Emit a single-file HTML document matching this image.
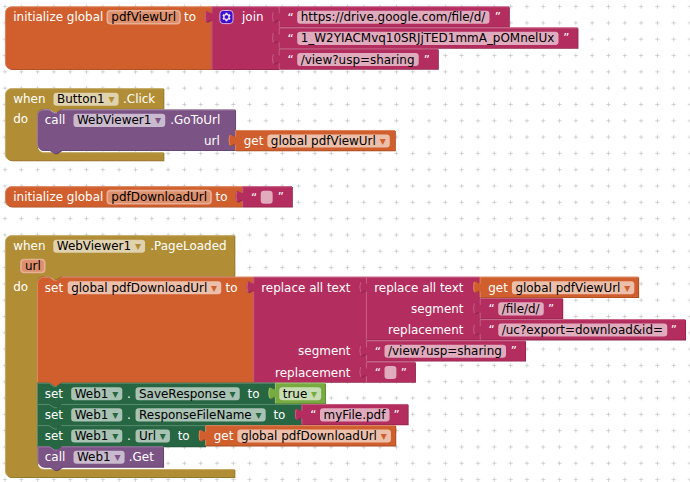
<!DOCTYPE html>
<html><head><meta charset="utf-8"><title>Blocks</title>
<style>
html,body{margin:0;padding:0;background:#fff;overflow:hidden}
svg{display:block}
text{font-family:"DejaVu Sans","Liberation Sans",sans-serif;font-size:11.96px;white-space:pre}
</style></head><body>
<svg width="690" height="482" viewBox="0 0 690 482">
<defs><pattern id="grid" patternUnits="userSpaceOnUse" width="16.31" height="16.31" x="-3.15" y="-1.55">
<path d="M 6.12,8.15 h 4.08 M 8.15,6.12 v 4.08" stroke="#c8c8c8" stroke-width="0.82" fill="none"/></pattern></defs>
<rect width="690" height="482" fill="#fff"/>
<rect width="690" height="482" fill="url(#grid)"/>
<path d="M 5,12.92 A 6.52,6.52 0 0,1 11.52,6.4 H 211.5 v 4.08 c 0,8.15 -6.52,-6.52 -6.52,6.12 s 6.52,-2.04 6.52,6.12 V 69.2 H 11.52 A 6.52,6.52 0 0,1 5,62.68 Z" fill="#a64c24" transform="translate(0.82,0.82)"/>
<path d="M 5,12.92 A 6.52,6.52 0 0,1 11.52,6.4 H 211.5 v 4.08 c 0,8.15 -6.52,-6.52 -6.52,6.12 s 6.52,-2.04 6.52,6.12 V 69.2 H 11.52 A 6.52,6.52 0 0,1 5,62.68 Z" fill="#D05F2D"/>
<path d="M 6.96,67.24 A 6.12,6.12 0 0,1 5.41,62.68 V 12.92 A 6.12,6.12 0 0,1 11.52,6.81 H 211.09 M 207.42,22.14 l 3,-1.71" fill="none" stroke="#de8f6c" stroke-width="0.82" stroke-linecap="round"/>
<text x="13.25" y="21.35" fill="#fff">initialize global</text>
<rect x="107.3" y="10.75" width="72.67" height="13.05" rx="3.26" ry="3.26" fill="#de8f6c" stroke="#e7af96" stroke-width="1.63"/>
<text x="111.3" y="21.35" fill="#000">pdfViewUrl</text>
<text x="184" y="21.35" fill="#fff">to</text>
<path d="M 211.5,6.4 H 278.7 V 6.4 v 4.08 c 0,8.15 -6.52,-6.52 -6.52,6.12 s 6.52,-2.04 6.52,6.12 V 27.5 v 4.08 c 0,8.15 -6.52,-6.52 -6.52,6.12 s 6.52,-2.04 6.52,6.12 V 48.6 v 4.08 c 0,8.15 -6.52,-6.52 -6.52,6.12 s 6.52,-2.04 6.52,6.12 V 69.2 H 211.5 V 22.71 c 0,-8.15 -6.52,6.52 -6.52,-6.12 s 6.52,2.04 6.52,-6.12 Z" fill="#8f244b" transform="translate(0.82,0.82)"/>
<path d="M 211.5,6.4 H 278.7 V 6.4 v 4.08 c 0,8.15 -6.52,-6.52 -6.52,6.12 s 6.52,-2.04 6.52,6.12 V 27.5 v 4.08 c 0,8.15 -6.52,-6.52 -6.52,6.12 s 6.52,-2.04 6.52,6.12 V 48.6 v 4.08 c 0,8.15 -6.52,-6.52 -6.52,6.12 s 6.52,-2.04 6.52,6.12 V 69.2 H 211.5 V 22.71 c 0,-8.15 -6.52,6.52 -6.52,-6.12 s 6.52,2.04 6.52,-6.12 Z" fill="#B32D5E"/>
<path d="M 211.91,68.79 V 21.49 m -6,-0.41 q -1.24,-4.49 0,-8.97 m 6,0.82 V 6.81 H 278.29 M 274.62,22.14 l 3,-1.71 M 274.62,43.24 l 3,-1.71 M 274.62,64.34 l 3,-1.71" fill="none" stroke="#ca6c8e" stroke-width="0.82" stroke-linecap="round"/>
<g transform="translate(219.9,10.48) scale(0.82)"><rect x="0" y="0" width="16" height="16" rx="4" ry="4" fill="#3a10d2" stroke="#f0d6e0" stroke-width="1"/><path fill="#fbe9e4" d="m4.203,7.296 0,1.368 -0.92,0.677 -0.11,0.41 0.9,1.559 0.41,0.11 1.043,-0.457 1.187,0.683 0.127,1.134 0.3,0.3 1.8,0 0.3,-0.299 0.127,-1.138 1.185,-0.682 1.046,0.458 0.409,-0.11 0.9,-1.559 -0.11,-0.41 -0.92,-0.677 0,-1.366 0.92,-0.677 0.11,-0.41 -0.9,-1.559 -0.409,-0.109 -1.046,0.458 -1.185,-0.682 -0.127,-1.138 -0.3,-0.299 -1.8,0 -0.3,0.3 -0.126,1.135 -1.187,0.682 -1.043,-0.457 -0.41,0.11 -0.899,1.559 0.108,0.409z"/><circle cx="8" cy="8" r="2.7" fill="#3a10d2" stroke="#fbe9e4" stroke-width="0.6"/></g>
<text x="242" y="21.35" fill="#fff">join</text>
<path d="M 278.7,6.4 H 509 V 26.79 H 278.7 V 22.71 c 0,-8.15 -6.52,6.52 -6.52,-6.12 s 6.52,2.04 6.52,-6.12 Z" fill="#8f244b" transform="translate(0.82,0.82)"/>
<path d="M 278.7,6.4 H 509 V 26.79 H 278.7 V 22.71 c 0,-8.15 -6.52,6.52 -6.52,-6.12 s 6.52,2.04 6.52,-6.12 Z" fill="#B32D5E"/>
<path d="M 279.11,26.38 V 21.49 m -6,-0.41 q -1.24,-4.49 0,-8.97 m 6,0.82 V 6.81 H 508.59" fill="none" stroke="#ca6c8e" stroke-width="0.82" stroke-linecap="round"/>
<text x="287.5" y="21.65" fill="#fff">“</text>
<rect x="297.2" y="10.75" width="192.28" height="13.05" rx="3.26" ry="3.26" fill="#fff" fill-opacity="0.6"/>
<text x="300.7" y="21.35" fill="#000">https://drive.google.com/file/d/</text>
<text x="500.85" y="21.35" fill="#fff" text-anchor="end">”</text>
<path d="M 278.7,27.5 H 577.6 V 47.89 H 278.7 V 43.81 c 0,-8.15 -6.52,6.52 -6.52,-6.12 s 6.52,2.04 6.52,-6.12 Z" fill="#8f244b" transform="translate(0.82,0.82)"/>
<path d="M 278.7,27.5 H 577.6 V 47.89 H 278.7 V 43.81 c 0,-8.15 -6.52,6.52 -6.52,-6.12 s 6.52,2.04 6.52,-6.12 Z" fill="#B32D5E"/>
<path d="M 279.11,47.48 V 42.59 m -6,-0.41 q -1.24,-4.49 0,-8.97 m 6,0.82 V 27.91 H 577.19" fill="none" stroke="#ca6c8e" stroke-width="0.82" stroke-linecap="round"/>
<text x="287.5" y="42.75" fill="#fff">“</text>
<rect x="297.2" y="31.85" width="261.3" height="13.05" rx="3.26" ry="3.26" fill="#fff" fill-opacity="0.6"/>
<text x="300.7" y="42.45" fill="#000">1_W2YIACMvq10SRJjTED1mmA_pOMnelUx</text>
<text x="569.45" y="42.45" fill="#fff" text-anchor="end">”</text>
<path d="M 278.7,48.6 H 438 V 68.99 H 278.7 V 64.91 c 0,-8.15 -6.52,6.52 -6.52,-6.12 s 6.52,2.04 6.52,-6.12 Z" fill="#8f244b" transform="translate(0.82,0.82)"/>
<path d="M 278.7,48.6 H 438 V 68.99 H 278.7 V 64.91 c 0,-8.15 -6.52,6.52 -6.52,-6.12 s 6.52,2.04 6.52,-6.12 Z" fill="#B32D5E"/>
<path d="M 279.11,68.58 V 63.69 m -6,-0.41 q -1.24,-4.49 0,-8.97 m 6,0.82 V 49.01 H 437.59" fill="none" stroke="#ca6c8e" stroke-width="0.82" stroke-linecap="round"/>
<text x="287.5" y="63.85" fill="#fff">“</text>
<rect x="297.2" y="52.95" width="121.5" height="13.05" rx="3.26" ry="3.26" fill="#fff" fill-opacity="0.6"/>
<text x="300.7" y="63.55" fill="#000">/view?usp=sharing</text>
<text x="429.85" y="63.55" fill="#fff" text-anchor="end">”</text>
<path d="M 5,94.82 A 6.52,6.52 0 0,1 11.52,88.3 H 163.5 V 108.69 H 61.47 l -4.89,3.26 -2.45,0 -4.89,-3.26 H 43.52 a 6.52,6.52 0 0,0 -6.52,6.52 V 145.78 a 6.52,6.52 0 0,0 6.52,6.52 H 163.5 V 160.46 H 11.52 A 6.52,6.52 0 0,1 5,153.93 Z" fill="#8e722a" transform="translate(0.82,0.82)"/>
<path d="M 5,94.82 A 6.52,6.52 0 0,1 11.52,88.3 H 163.5 V 108.69 H 61.47 l -4.89,3.26 -2.45,0 -4.89,-3.26 H 43.52 a 6.52,6.52 0 0,0 -6.52,6.52 V 145.78 a 6.52,6.52 0 0,0 6.52,6.52 H 163.5 V 160.46 H 11.52 A 6.52,6.52 0 0,1 5,153.93 Z" fill="#B18E35"/>
<path d="M 6.96,158.5 A 6.12,6.12 0 0,1 5.41,153.93 V 94.82 A 6.12,6.12 0 0,1 11.52,88.71 H 163.09 M 39.36,150.75 a 6.93,6.93 0 0,0 4.57,1.96 H 163.09" fill="none" stroke="#c8b072" stroke-width="0.82" stroke-linecap="round"/>
<text x="13.25" y="103.25" fill="#fff">when</text>
<rect x="53.5" y="92.65" width="65.08" height="13.05" rx="3.26" ry="3.26" fill="#fff" fill-opacity="0.6"/>
<text x="57" y="103.25" fill="#000">Button1<tspan fill="#B18E35"> ▾</tspan></text>
<text x="123" y="103.25" fill="#fff">.Click</text>
<text x="13.25" y="123.44" fill="#fff">do</text>
<path d="M 37,116.01 A 6.52,6.52 0 0,1 43.52,109.49 H 49.23 l 4.89,3.26 2.45,0 4.89,-3.26 H 235.2 V 129.88 v 4.08 c 0,8.15 -6.52,-6.52 -6.52,6.12 s 6.52,-2.04 6.52,6.12 V 150.26 H 61.47 l -4.89,3.26 -2.45,0 -4.89,-3.26 H 43.52 A 6.52,6.52 0 0,1 37,143.74 Z" fill="#63426a" transform="translate(0.82,0.82)"/>
<path d="M 37,116.01 A 6.52,6.52 0 0,1 43.52,109.49 H 49.23 l 4.89,3.26 2.45,0 4.89,-3.26 H 235.2 V 129.88 v 4.08 c 0,8.15 -6.52,-6.52 -6.52,6.12 s 6.52,-2.04 6.52,6.12 V 150.26 H 61.47 l -4.89,3.26 -2.45,0 -4.89,-3.26 H 43.52 A 6.52,6.52 0 0,1 37,143.74 Z" fill="#7C5385"/>
<path d="M 38.96,148.31 A 6.12,6.12 0 0,1 37.41,143.74 V 116.01 A 6.12,6.12 0 0,1 43.52,109.9 H 49.23 l 4.89,3.26 2.45,0 M 61.47,109.9 H 234.79 M 231.12,145.61 l 3,-1.71" fill="none" stroke="#a387aa" stroke-width="0.82" stroke-linecap="round"/>
<text x="44.75" y="124.44" fill="#fff">call</text>
<rect x="73.5" y="113.84" width="91.75" height="13.05" rx="3.26" ry="3.26" fill="#fff" fill-opacity="0.6"/>
<text x="77" y="124.44" fill="#000">WebViewer1<tspan fill="#7C5385"> ▾</tspan></text>
<text x="170.3" y="124.44" fill="#fff">.GoToUrl</text>
<text x="219.8" y="144.82" fill="#fff" text-anchor="end">url</text>
<path d="M 235.2,130.07 H 395 V 150.46 H 235.2 V 146.38 c 0,-8.15 -6.52,6.52 -6.52,-6.12 s 6.52,2.04 6.52,-6.12 Z" fill="#a64c24" transform="translate(0.82,0.82)"/>
<path d="M 235.2,130.07 H 395 V 150.46 H 235.2 V 146.38 c 0,-8.15 -6.52,6.52 -6.52,-6.12 s 6.52,2.04 6.52,-6.12 Z" fill="#D05F2D"/>
<path d="M 235.61,150.05 V 145.16 m -6,-0.41 q -1.24,-4.49 0,-8.97 m 6,0.82 V 130.48 H 394.59" fill="none" stroke="#de8f6c" stroke-width="0.82" stroke-linecap="round"/>
<text x="243.7" y="145.02" fill="#fff">get</text>
<rect x="267.34" y="134.42" width="122.45" height="13.05" rx="3.26" ry="3.26" fill="#fff" fill-opacity="0.6"/>
<text x="270.84" y="145.02" fill="#000">global pdfViewUrl<tspan fill="#D05F2D"> ▾</tspan></text>
<path d="M 5,192.82 A 6.52,6.52 0 0,1 11.52,186.3 H 242.25 v 4.08 c 0,8.15 -6.52,-6.52 -6.52,6.12 s 6.52,-2.04 6.52,6.12 V 206.69 H 11.52 A 6.52,6.52 0 0,1 5,200.16 Z" fill="#a64c24" transform="translate(0.82,0.82)"/>
<path d="M 5,192.82 A 6.52,6.52 0 0,1 11.52,186.3 H 242.25 v 4.08 c 0,8.15 -6.52,-6.52 -6.52,6.12 s 6.52,-2.04 6.52,6.12 V 206.69 H 11.52 A 6.52,6.52 0 0,1 5,200.16 Z" fill="#D05F2D"/>
<path d="M 6.96,204.73 A 6.12,6.12 0 0,1 5.41,200.16 V 192.82 A 6.12,6.12 0 0,1 11.52,186.71 H 241.84 M 238.17,202.04 l 3,-1.71" fill="none" stroke="#de8f6c" stroke-width="0.82" stroke-linecap="round"/>
<text x="13.25" y="201.25" fill="#fff">initialize global</text>
<rect x="107.3" y="190.65" width="103.74" height="13.05" rx="3.26" ry="3.26" fill="#de8f6c" stroke="#e7af96" stroke-width="1.63"/>
<text x="111.3" y="201.25" fill="#000">pdfDownloadUrl</text>
<text x="215.5" y="201.25" fill="#fff">to</text>
<path d="M 242.25,186.3 H 292 V 206.69 H 242.25 V 202.61 c 0,-8.15 -6.52,6.52 -6.52,-6.12 s 6.52,2.04 6.52,-6.12 Z" fill="#8f244b" transform="translate(0.82,0.82)"/>
<path d="M 242.25,186.3 H 292 V 206.69 H 242.25 V 202.61 c 0,-8.15 -6.52,6.52 -6.52,-6.12 s 6.52,2.04 6.52,-6.12 Z" fill="#B32D5E"/>
<path d="M 242.66,206.28 V 201.39 m -6,-0.41 q -1.24,-4.49 0,-8.97 m 6,0.82 V 186.71 H 291.59" fill="none" stroke="#ca6c8e" stroke-width="0.82" stroke-linecap="round"/>
<text x="251.05" y="201.55" fill="#fff">“</text>
<rect x="260.75" y="190.65" width="11.9" height="13.05" rx="3.26" ry="3.26" fill="#fff" fill-opacity="0.6"/>
<text x="264.25" y="201.25" fill="#000"></text>
<text x="283.85" y="201.25" fill="#fff" text-anchor="end">”</text>
<path d="M 5,241.82 A 6.52,6.52 0 0,1 11.52,235.3 H 234.5 V 276 H 61.47 l -4.89,3.26 -2.45,0 -4.89,-3.26 H 43.52 a 6.52,6.52 0 0,0 -6.52,6.52 V 462.58 a 6.52,6.52 0 0,0 6.52,6.52 H 234.5 V 477.25 H 11.52 A 6.52,6.52 0 0,1 5,470.73 Z" fill="#8e722a" transform="translate(0.82,0.82)"/>
<path d="M 5,241.82 A 6.52,6.52 0 0,1 11.52,235.3 H 234.5 V 276 H 61.47 l -4.89,3.26 -2.45,0 -4.89,-3.26 H 43.52 a 6.52,6.52 0 0,0 -6.52,6.52 V 462.58 a 6.52,6.52 0 0,0 6.52,6.52 H 234.5 V 477.25 H 11.52 A 6.52,6.52 0 0,1 5,470.73 Z" fill="#B18E35"/>
<path d="M 6.96,475.3 A 6.12,6.12 0 0,1 5.41,470.73 V 241.82 A 6.12,6.12 0 0,1 11.52,235.71 H 234.09 M 39.36,467.55 a 6.93,6.93 0 0,0 4.57,1.96 H 234.09" fill="none" stroke="#c8b072" stroke-width="0.82" stroke-linecap="round"/>
<text x="13.25" y="250.25" fill="#fff">when</text>
<rect x="53.3" y="239.65" width="91.75" height="13.05" rx="3.26" ry="3.26" fill="#fff" fill-opacity="0.6"/>
<text x="56.8" y="250.25" fill="#000">WebViewer1<tspan fill="#B18E35"> ▾</tspan></text>
<text x="150.3" y="250.25" fill="#fff">.PageLoaded</text>
<rect x="21" y="259.45" width="23.72" height="13.05" rx="3.26" ry="3.26" fill="#de8f6c" stroke="#e7af96" stroke-width="1.63"/>
<text x="25" y="270.05" fill="#000">url</text>
<text x="13.25" y="290.75" fill="#fff">do</text>
<path d="M 37.1,283.32 A 6.52,6.52 0 0,1 43.62,276.8 H 49.33 l 4.89,3.26 2.45,0 4.89,-3.26 H 253.25 V 276.8 v 4.08 c 0,8.15 -6.52,-6.52 -6.52,6.12 s 6.52,-2.04 6.52,6.12 V 382.81 H 61.56 l -4.89,3.26 -2.45,0 -4.89,-3.26 H 37.1 Z" fill="#a64c24" transform="translate(0.82,0.82)"/>
<path d="M 37.1,283.32 A 6.52,6.52 0 0,1 43.62,276.8 H 49.33 l 4.89,3.26 2.45,0 4.89,-3.26 H 253.25 V 276.8 v 4.08 c 0,8.15 -6.52,-6.52 -6.52,6.12 s 6.52,-2.04 6.52,6.12 V 382.81 H 61.56 l -4.89,3.26 -2.45,0 -4.89,-3.26 H 37.1 Z" fill="#D05F2D"/>
<path d="M 37.51,382.41 V 283.32 A 6.12,6.12 0 0,1 43.62,277.21 H 49.33 l 4.89,3.26 2.45,0 M 61.56,277.21 H 252.84 M 249.17,292.54 l 3,-1.71" fill="none" stroke="#de8f6c" stroke-width="0.82" stroke-linecap="round"/>
<text x="44.8" y="291.75" fill="#fff">set</text>
<rect x="67.7" y="281.15" width="153.52" height="13.05" rx="3.26" ry="3.26" fill="#fff" fill-opacity="0.6"/>
<text x="71.2" y="291.75" fill="#000">global pdfDownloadUrl<tspan fill="#D05F2D"> ▾</tspan></text>
<text x="225.6" y="291.75" fill="#fff">to</text>
<path d="M 253.25,276.8 H 366 V 276.8 v 4.08 c 0,8.15 -6.52,-6.52 -6.52,6.12 s 6.52,-2.04 6.52,6.12 V 340.41 v 4.08 c 0,8.15 -6.52,-6.52 -6.52,6.12 s 6.52,-2.04 6.52,6.12 V 361.61 v 4.08 c 0,8.15 -6.52,-6.52 -6.52,6.12 s 6.52,-2.04 6.52,6.12 V 382 H 253.25 V 293.11 c 0,-8.15 -6.52,6.52 -6.52,-6.12 s 6.52,2.04 6.52,-6.12 Z" fill="#8f244b" transform="translate(0.82,0.82)"/>
<path d="M 253.25,276.8 H 366 V 276.8 v 4.08 c 0,8.15 -6.52,-6.52 -6.52,6.12 s 6.52,-2.04 6.52,6.12 V 340.41 v 4.08 c 0,8.15 -6.52,-6.52 -6.52,6.12 s 6.52,-2.04 6.52,6.12 V 361.61 v 4.08 c 0,8.15 -6.52,-6.52 -6.52,6.12 s 6.52,-2.04 6.52,6.12 V 382 H 253.25 V 293.11 c 0,-8.15 -6.52,6.52 -6.52,-6.12 s 6.52,2.04 6.52,-6.12 Z" fill="#B32D5E"/>
<path d="M 253.66,381.59 V 291.89 m -6,-0.41 q -1.24,-4.49 0,-8.97 m 6,0.82 V 277.21 H 365.59 M 361.92,292.54 l 3,-1.71 M 361.92,356.15 l 3,-1.71 M 361.92,377.35 l 3,-1.71" fill="none" stroke="#ca6c8e" stroke-width="0.82" stroke-linecap="round"/>
<text x="350.5" y="291.75" fill="#fff" text-anchor="end">replace all text</text>
<text x="350.5" y="355.36" fill="#fff" text-anchor="end">segment</text>
<text x="350.5" y="376.56" fill="#fff" text-anchor="end">replacement</text>
<path d="M 366,276.8 H 479.75 V 276.8 v 4.08 c 0,8.15 -6.52,-6.52 -6.52,6.12 s 6.52,-2.04 6.52,6.12 V 298 v 4.08 c 0,8.15 -6.52,-6.52 -6.52,6.12 s 6.52,-2.04 6.52,6.12 V 319.21 v 4.08 c 0,8.15 -6.52,-6.52 -6.52,6.12 s 6.52,-2.04 6.52,6.12 V 339.59 H 366 V 293.11 c 0,-8.15 -6.52,6.52 -6.52,-6.12 s 6.52,2.04 6.52,-6.12 Z" fill="#8f244b" transform="translate(0.82,0.82)"/>
<path d="M 366,276.8 H 479.75 V 276.8 v 4.08 c 0,8.15 -6.52,-6.52 -6.52,6.12 s 6.52,-2.04 6.52,6.12 V 298 v 4.08 c 0,8.15 -6.52,-6.52 -6.52,6.12 s 6.52,-2.04 6.52,6.12 V 319.21 v 4.08 c 0,8.15 -6.52,-6.52 -6.52,6.12 s 6.52,-2.04 6.52,6.12 V 339.59 H 366 V 293.11 c 0,-8.15 -6.52,6.52 -6.52,-6.12 s 6.52,2.04 6.52,-6.12 Z" fill="#B32D5E"/>
<path d="M 366.41,339.19 V 291.89 m -6,-0.41 q -1.24,-4.49 0,-8.97 m 6,0.82 V 277.21 H 479.34 M 475.67,292.54 l 3,-1.71 M 475.67,313.74 l 3,-1.71 M 475.67,334.95 l 3,-1.71" fill="none" stroke="#ca6c8e" stroke-width="0.82" stroke-linecap="round"/>
<text x="463.5" y="291.75" fill="#fff" text-anchor="end">replace all text</text>
<text x="463.5" y="312.95" fill="#fff" text-anchor="end">segment</text>
<text x="463.5" y="334.16" fill="#fff" text-anchor="end">replacement</text>
<path d="M 479.75,276.8 H 638.3 V 297.19 H 479.75 V 293.11 c 0,-8.15 -6.52,6.52 -6.52,-6.12 s 6.52,2.04 6.52,-6.12 Z" fill="#a64c24" transform="translate(0.82,0.82)"/>
<path d="M 479.75,276.8 H 638.3 V 297.19 H 479.75 V 293.11 c 0,-8.15 -6.52,6.52 -6.52,-6.12 s 6.52,2.04 6.52,-6.12 Z" fill="#D05F2D"/>
<path d="M 480.16,296.78 V 291.89 m -6,-0.41 q -1.24,-4.49 0,-8.97 m 6,0.82 V 277.21 H 637.89" fill="none" stroke="#de8f6c" stroke-width="0.82" stroke-linecap="round"/>
<text x="488.25" y="291.75" fill="#fff">get</text>
<rect x="511.89" y="281.15" width="122.45" height="13.05" rx="3.26" ry="3.26" fill="#fff" fill-opacity="0.6"/>
<text x="515.39" y="291.75" fill="#000">global pdfViewUrl<tspan fill="#D05F2D"> ▾</tspan></text>
<path d="M 479.75,298 H 562.4 V 318.39 H 479.75 V 314.31 c 0,-8.15 -6.52,6.52 -6.52,-6.12 s 6.52,2.04 6.52,-6.12 Z" fill="#8f244b" transform="translate(0.82,0.82)"/>
<path d="M 479.75,298 H 562.4 V 318.39 H 479.75 V 314.31 c 0,-8.15 -6.52,6.52 -6.52,-6.12 s 6.52,2.04 6.52,-6.12 Z" fill="#B32D5E"/>
<path d="M 480.16,317.98 V 313.09 m -6,-0.41 q -1.24,-4.49 0,-8.97 m 6,0.82 V 298.41 H 561.99" fill="none" stroke="#ca6c8e" stroke-width="0.82" stroke-linecap="round"/>
<text x="488.55" y="313.25" fill="#fff">“</text>
<rect x="498.25" y="302.35" width="45.5" height="13.05" rx="3.26" ry="3.26" fill="#fff" fill-opacity="0.6"/>
<text x="501.75" y="312.95" fill="#000">/file/d/</text>
<text x="554.25" y="312.95" fill="#fff" text-anchor="end">”</text>
<path d="M 479.75,319.21 H 685.2 V 339.59 H 479.75 V 335.52 c 0,-8.15 -6.52,6.52 -6.52,-6.12 s 6.52,2.04 6.52,-6.12 Z" fill="#8f244b" transform="translate(0.82,0.82)"/>
<path d="M 479.75,319.21 H 685.2 V 339.59 H 479.75 V 335.52 c 0,-8.15 -6.52,6.52 -6.52,-6.12 s 6.52,2.04 6.52,-6.12 Z" fill="#B32D5E"/>
<path d="M 480.16,339.19 V 334.29 m -6,-0.41 q -1.24,-4.49 0,-8.97 m 6,0.82 V 319.61 H 684.79" fill="none" stroke="#ca6c8e" stroke-width="0.82" stroke-linecap="round"/>
<text x="488.55" y="334.46" fill="#fff">“</text>
<rect x="498.25" y="323.56" width="168.99" height="13.05" rx="3.26" ry="3.26" fill="#fff" fill-opacity="0.6"/>
<text x="501.75" y="334.16" fill="#000">/uc?export=download&amp;id=</text>
<text x="677.05" y="334.16" fill="#fff" text-anchor="end">”</text>
<path d="M 366,340.41 H 525.2 V 360.8 H 366 V 356.72 c 0,-8.15 -6.52,6.52 -6.52,-6.12 s 6.52,2.04 6.52,-6.12 Z" fill="#8f244b" transform="translate(0.82,0.82)"/>
<path d="M 366,340.41 H 525.2 V 360.8 H 366 V 356.72 c 0,-8.15 -6.52,6.52 -6.52,-6.12 s 6.52,2.04 6.52,-6.12 Z" fill="#B32D5E"/>
<path d="M 366.41,360.39 V 355.5 m -6,-0.41 q -1.24,-4.49 0,-8.97 m 6,0.82 V 340.82 H 524.79" fill="none" stroke="#ca6c8e" stroke-width="0.82" stroke-linecap="round"/>
<text x="374.8" y="355.66" fill="#fff">“</text>
<rect x="384.5" y="344.76" width="121.5" height="13.05" rx="3.26" ry="3.26" fill="#fff" fill-opacity="0.6"/>
<text x="388" y="355.36" fill="#000">/view?usp=sharing</text>
<text x="517.05" y="355.36" fill="#fff" text-anchor="end">”</text>
<path d="M 366,361.61 H 415.1 V 382 H 366 V 377.92 c 0,-8.15 -6.52,6.52 -6.52,-6.12 s 6.52,2.04 6.52,-6.12 Z" fill="#8f244b" transform="translate(0.82,0.82)"/>
<path d="M 366,361.61 H 415.1 V 382 H 366 V 377.92 c 0,-8.15 -6.52,6.52 -6.52,-6.12 s 6.52,2.04 6.52,-6.12 Z" fill="#B32D5E"/>
<path d="M 366.41,381.59 V 376.7 m -6,-0.41 q -1.24,-4.49 0,-8.97 m 6,0.82 V 362.02 H 414.69" fill="none" stroke="#ca6c8e" stroke-width="0.82" stroke-linecap="round"/>
<text x="374.8" y="376.86" fill="#fff">“</text>
<rect x="384.5" y="365.96" width="11.9" height="13.05" rx="3.26" ry="3.26" fill="#fff" fill-opacity="0.6"/>
<text x="388" y="376.56" fill="#000"></text>
<text x="406.95" y="376.56" fill="#fff" text-anchor="end">”</text>
<path d="M 37,382.81 H 49.23 l 4.89,3.26 2.45,0 4.89,-3.26 H 275 V 382.81 v 4.08 c 0,8.15 -6.52,-6.52 -6.52,6.12 s 6.52,-2.04 6.52,6.12 V 404.02 H 61.47 l -4.89,3.26 -2.45,0 -4.89,-3.26 H 37 Z" fill="#1e5236" transform="translate(0.82,0.82)"/>
<path d="M 37,382.81 H 49.23 l 4.89,3.26 2.45,0 4.89,-3.26 H 275 V 382.81 v 4.08 c 0,8.15 -6.52,-6.52 -6.52,6.12 s 6.52,-2.04 6.52,6.12 V 404.02 H 61.47 l -4.89,3.26 -2.45,0 -4.89,-3.26 H 37 Z" fill="#266643"/>
<path d="M 37.41,403.61 V 383.22 H 49.23 l 4.89,3.26 2.45,0 M 61.47,383.22 H 274.59 M 270.92,398.55 l 3,-1.71" fill="none" stroke="#67947b" stroke-width="0.82" stroke-linecap="round"/>
<text x="44.7" y="397.76" fill="#fff">set</text>
<rect x="71.2" y="387.17" width="51.09" height="13.05" rx="3.26" ry="3.26" fill="#fff" fill-opacity="0.6"/>
<text x="74.7" y="397.76" fill="#000">Web1<tspan fill="#266643"> ▾</tspan></text>
<text x="127.04" y="397.76" fill="#fff">.</text>
<rect x="135.54" y="387.17" width="104.2" height="13.05" rx="3.26" ry="3.26" fill="#fff" fill-opacity="0.6"/>
<text x="139.04" y="397.76" fill="#000">SaveResponse<tspan fill="#266643"> ▾</tspan></text>
<text x="247.49" y="397.76" fill="#fff">to</text>
<path d="M 275,382.81 H 325.2 V 403.2 H 275 V 399.12 c 0,-8.15 -6.52,6.52 -6.52,-6.12 s 6.52,2.04 6.52,-6.12 Z" fill="#5f8934" transform="translate(0.82,0.82)"/>
<path d="M 275,382.81 H 325.2 V 403.2 H 275 V 399.12 c 0,-8.15 -6.52,6.52 -6.52,-6.12 s 6.52,2.04 6.52,-6.12 Z" fill="#77AB41"/>
<path d="M 275.41,402.79 V 397.9 m -6,-0.41 q -1.24,-4.49 0,-8.97 m 6,0.82 V 383.22 H 324.79" fill="none" stroke="#a0c47a" stroke-width="0.82" stroke-linecap="round"/>
<rect x="279.25" y="387.17" width="41.95" height="13.05" rx="3.26" ry="3.26" fill="#fff" fill-opacity="0.6"/>
<text x="282.75" y="397.76" fill="#000">true<tspan fill="#77AB41"> ▾</tspan></text>
<path d="M 37,404.02 H 49.23 l 4.89,3.26 2.45,0 4.89,-3.26 H 301.5 V 404.02 v 4.08 c 0,8.15 -6.52,-6.52 -6.52,6.12 s 6.52,-2.04 6.52,6.12 V 425.22 H 61.47 l -4.89,3.26 -2.45,0 -4.89,-3.26 H 37 Z" fill="#1e5236" transform="translate(0.82,0.82)"/>
<path d="M 37,404.02 H 49.23 l 4.89,3.26 2.45,0 4.89,-3.26 H 301.5 V 404.02 v 4.08 c 0,8.15 -6.52,-6.52 -6.52,6.12 s 6.52,-2.04 6.52,6.12 V 425.22 H 61.47 l -4.89,3.26 -2.45,0 -4.89,-3.26 H 37 Z" fill="#266643"/>
<path d="M 37.41,424.81 V 404.43 H 49.23 l 4.89,3.26 2.45,0 M 61.47,404.43 H 301.09 M 297.42,419.76 l 3,-1.71" fill="none" stroke="#67947b" stroke-width="0.82" stroke-linecap="round"/>
<text x="44.7" y="418.97" fill="#fff">set</text>
<rect x="71.2" y="408.37" width="51.09" height="13.05" rx="3.26" ry="3.26" fill="#fff" fill-opacity="0.6"/>
<text x="74.7" y="418.97" fill="#000">Web1<tspan fill="#266643"> ▾</tspan></text>
<text x="127.04" y="418.97" fill="#fff">.</text>
<rect x="135.54" y="408.37" width="130.15" height="13.05" rx="3.26" ry="3.26" fill="#fff" fill-opacity="0.6"/>
<text x="139.04" y="418.97" fill="#000">ResponseFileName<tspan fill="#266643"> ▾</tspan></text>
<text x="273.43" y="418.97" fill="#fff">to</text>
<path d="M 301.5,404.02 H 407.8 V 424.41 H 301.5 V 420.33 c 0,-8.15 -6.52,6.52 -6.52,-6.12 s 6.52,2.04 6.52,-6.12 Z" fill="#8f244b" transform="translate(0.82,0.82)"/>
<path d="M 301.5,404.02 H 407.8 V 424.41 H 301.5 V 420.33 c 0,-8.15 -6.52,6.52 -6.52,-6.12 s 6.52,2.04 6.52,-6.12 Z" fill="#B32D5E"/>
<path d="M 301.91,424 V 419.1 m -6,-0.41 q -1.24,-4.49 0,-8.97 m 6,0.82 V 404.43 H 407.39" fill="none" stroke="#ca6c8e" stroke-width="0.82" stroke-linecap="round"/>
<text x="310.3" y="419.27" fill="#fff">“</text>
<rect x="320" y="408.37" width="69.54" height="13.05" rx="3.26" ry="3.26" fill="#fff" fill-opacity="0.6"/>
<text x="323.5" y="418.97" fill="#000">myFile.pdf</text>
<text x="399.65" y="418.97" fill="#fff" text-anchor="end">”</text>
<path d="M 37,425.22 H 49.23 l 4.89,3.26 2.45,0 4.89,-3.26 H 205.25 V 425.22 v 4.08 c 0,8.15 -6.52,-6.52 -6.52,6.12 s 6.52,-2.04 6.52,6.12 V 446.42 H 61.47 l -4.89,3.26 -2.45,0 -4.89,-3.26 H 37 Z" fill="#1e5236" transform="translate(0.82,0.82)"/>
<path d="M 37,425.22 H 49.23 l 4.89,3.26 2.45,0 4.89,-3.26 H 205.25 V 425.22 v 4.08 c 0,8.15 -6.52,-6.52 -6.52,6.12 s 6.52,-2.04 6.52,6.12 V 446.42 H 61.47 l -4.89,3.26 -2.45,0 -4.89,-3.26 H 37 Z" fill="#266643"/>
<path d="M 37.41,446.02 V 425.63 H 49.23 l 4.89,3.26 2.45,0 M 61.47,425.63 H 204.84 M 201.17,440.96 l 3,-1.71" fill="none" stroke="#67947b" stroke-width="0.82" stroke-linecap="round"/>
<text x="44.7" y="440.17" fill="#fff">set</text>
<rect x="71.2" y="429.57" width="51.09" height="13.05" rx="3.26" ry="3.26" fill="#fff" fill-opacity="0.6"/>
<text x="74.7" y="440.17" fill="#000">Web1<tspan fill="#266643"> ▾</tspan></text>
<text x="127.04" y="440.17" fill="#fff">.</text>
<rect x="135.54" y="429.57" width="34.4" height="13.05" rx="3.26" ry="3.26" fill="#fff" fill-opacity="0.6"/>
<text x="139.04" y="440.17" fill="#000">Url<tspan fill="#266643"> ▾</tspan></text>
<text x="177.69" y="440.17" fill="#fff">to</text>
<path d="M 205.25,425.22 H 395.4 V 445.61 H 205.25 V 441.53 c 0,-8.15 -6.52,6.52 -6.52,-6.12 s 6.52,2.04 6.52,-6.12 Z" fill="#a64c24" transform="translate(0.82,0.82)"/>
<path d="M 205.25,425.22 H 395.4 V 445.61 H 205.25 V 441.53 c 0,-8.15 -6.52,6.52 -6.52,-6.12 s 6.52,2.04 6.52,-6.12 Z" fill="#D05F2D"/>
<path d="M 205.66,445.2 V 440.31 m -6,-0.41 q -1.24,-4.49 0,-8.97 m 6,0.82 V 425.63 H 394.99" fill="none" stroke="#de8f6c" stroke-width="0.82" stroke-linecap="round"/>
<text x="213.75" y="440.17" fill="#fff">get</text>
<rect x="237.39" y="429.57" width="153.52" height="13.05" rx="3.26" ry="3.26" fill="#fff" fill-opacity="0.6"/>
<text x="240.89" y="440.17" fill="#000">global pdfDownloadUrl<tspan fill="#D05F2D"> ▾</tspan></text>
<path d="M 37.5,446.42 H 49.73 l 4.89,3.26 2.45,0 4.89,-3.26 H 163.25 V 466.81 H 61.97 l -4.89,3.26 -2.45,0 -4.89,-3.26 H 44.02 A 6.52,6.52 0 0,1 37.5,460.29 Z" fill="#63426a" transform="translate(0.82,0.82)"/>
<path d="M 37.5,446.42 H 49.73 l 4.89,3.26 2.45,0 4.89,-3.26 H 163.25 V 466.81 H 61.97 l -4.89,3.26 -2.45,0 -4.89,-3.26 H 44.02 A 6.52,6.52 0 0,1 37.5,460.29 Z" fill="#7C5385"/>
<path d="M 39.46,464.85 A 6.12,6.12 0 0,1 37.91,460.29 V 446.83 H 49.73 l 4.89,3.26 2.45,0 M 61.97,446.83 H 162.84" fill="none" stroke="#a387aa" stroke-width="0.82" stroke-linecap="round"/>
<text x="44.75" y="461.37" fill="#fff">call</text>
<rect x="73.5" y="450.77" width="51.09" height="13.05" rx="3.26" ry="3.26" fill="#fff" fill-opacity="0.6"/>
<text x="77" y="461.37" fill="#000">Web1<tspan fill="#7C5385"> ▾</tspan></text>
<text x="128.75" y="461.37" fill="#fff">.Get</text>
</svg>
</body></html>
